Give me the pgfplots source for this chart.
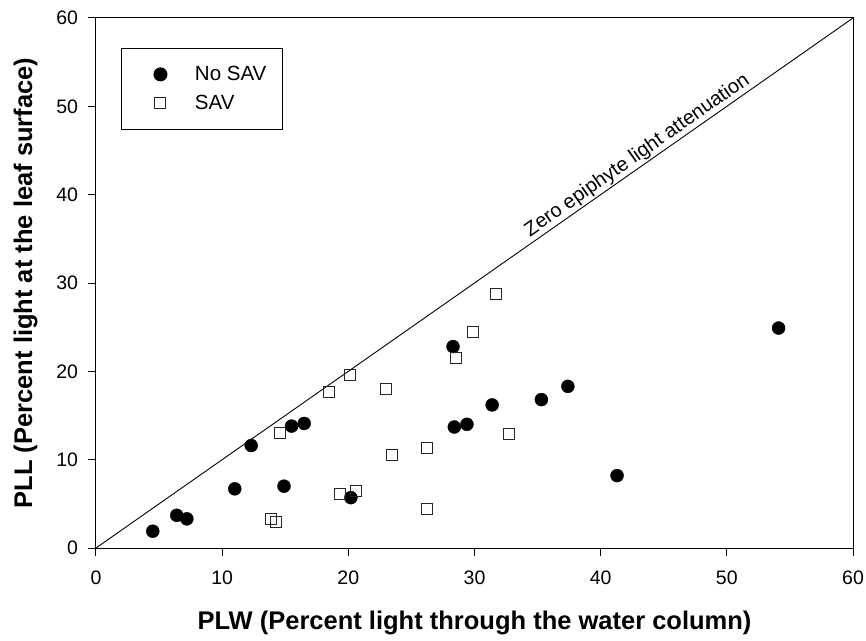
\documentclass[border=0pt]{standalone}
\usepackage{pgfplots}
\pgfplotsset{compat=1.18}
\usepackage{fontspec}
\setmainfont{Liberation Sans}

\begin{document}
\begin{tikzpicture}
\path[use as bounding box] (-96pt,-92pt) rectangle (770pt,548pt);
\begin{axis}[
  at={(0pt,0pt)}, anchor=south west,
  scale only axis, width=757pt, height=530pt,
  xmin=0, xmax=60, ymin=0, ymax=60,
  xtick={0,10,...,60}, ytick={0,10,...,60},
  tick align=outside, tick pos=left,
  major tick length=7.5pt,
  axis line style={line width=1pt},
  every tick/.style={black, line width=1pt},
  /pgf/number format/assume math mode=true,
  tick label style={font=\fontsize{19.5}{21}\selectfont},
  xticklabel style={yshift=-12pt},
  yticklabel style={xshift=-7pt},
  xlabel={PLW (Percent light through the water column)},
  ylabel={PLL (Percent light at the leaf surface)},
  label style={font=\bfseries\fontsize{25.5}{28}\selectfont},
  xlabel style={at={(axis description cs:0.5,-0.1547)}, anchor=base},
  ylabel style={at={(axis description cs:-0.0845,0.5)}, anchor=base},
  legend style={at={(axis description cs:0.033,0.9434)}, anchor=north west,
    draw=black, line width=1pt, inner xsep=16pt, inner ysep=18pt,
    font=\fontsize{20.5}{22}\selectfont, row sep=13pt, column sep=28pt,
    nodes={inner sep=0pt}},
  legend cell align=left,
  legend image code/.code={%
    \path[draw=none, fill=none] (-23pt,0pt) rectangle (0pt,0pt);
    \draw[#1] plot coordinates {(0pt,0pt)};},
]
% reference line: PLL = PLW
\addplot[black, line width=0.9pt, forget plot] coordinates {(0,0) (60,60)};

% sites without submersed aquatic vegetation
\addplot[only marks, mark=*, mark size=6.5pt, draw=black, fill=black] coordinates {
  (4.5,1.9) (6.4,3.7) (7.2,3.3) (11.0,6.7) (12.3,11.6) (14.9,7.0)
  (15.5,13.8) (16.5,14.1) (20.2,5.7) (28.3,22.8) (28.4,13.7) (29.4,14.0)
  (31.4,16.2) (35.3,16.8) (37.4,18.3) (41.3,8.2) (54.1,24.9)
};
\addlegendentry{No SAV}

% sites with submersed aquatic vegetation
\addplot[only marks, mark=square, mark size=5.5pt, draw=black!85, line width=1pt] coordinates {
  (13.9,3.3) (14.3,2.9) (14.6,13.0) (18.5,17.7) (19.3,6.1) (20.1,19.6)
  (20.6,6.5) (23.0,18.0) (23.5,10.5) (26.2,11.3) (26.2,4.4) (28.5,21.5)
  (29.9,24.4) (31.7,28.7) (32.7,12.9)
};
\addlegendentry{SAV}

\node[rotate=35, anchor=south, inner sep=1.5pt, font=\fontsize{20}{22}\selectfont]
  at (axis cs:43.4,43.4) {Zero epiphyte light attenuation};
\end{axis}
\end{tikzpicture}
\end{document}
